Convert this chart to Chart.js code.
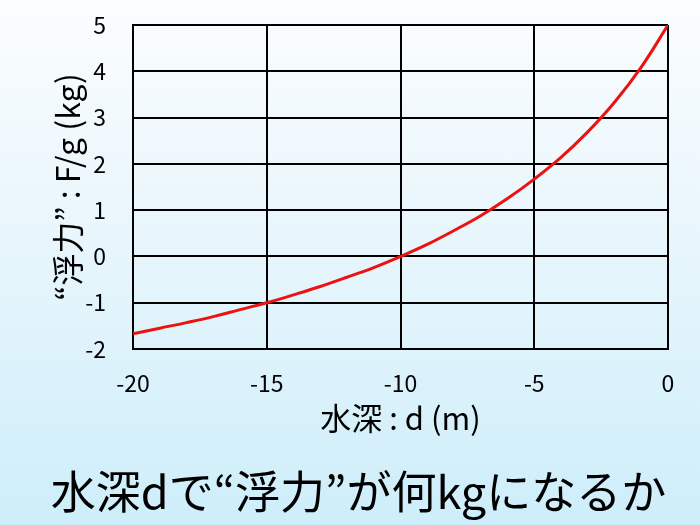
<!DOCTYPE html>
<html>
<head>
<meta charset="utf-8">
<script src="https://cdn.jsdelivr.net/npm/chart.js@4"></script>
<style>
    html, body {
        margin: 0;
        padding: 0;
        width: 700px;
        height: 525px;
        overflow: hidden;
        background: linear-gradient(to bottom, #fbfdfe 0%, #e6f5fc 50%, #cdeefa 100%);
    }
    #wrap {
        width: 700px;
        height: 525px;
    }
</style>
</head>
<body>
<div id="wrap"><canvas id="buoy"></canvas></div>
<script>
// depth d (m) and buoyancy F/g (kg)
const depths = [-20, -19, -18, -17, -16, -15, -14, -13, -12, -11, -10, -9, -8, -7, -6, -5, -4, -3, -2, -1, 0];
const buoyancy = [-1.67, -1.55, -1.43, -1.30, -1.15, -1.0, -0.83, -0.65, -0.45, -0.24, 0, 0.26, 0.56, 0.88, 1.25, 1.67, 2.14, 2.69, 3.33, 4.09, 5.0];

const xTicks = [-20, -15, -10, -5, 0];
const yTicks = [-2, -1, 0, 1, 2, 3, 4, 5];

const titleText = "水深dで“浮力”が何kgになるか";
const xTitle = "水深 : d (m)";
const yTitle = "“浮力” : F/g (kg)";

const fontFamily = "'Noto Sans CJK JP', 'Noto Sans', sans-serif";

const points = depths.map((d, i) => ({ x: d, y: buoyancy[i] }));

const gridOpts = {
    color: "#000",
    lineWidth: 2,
    drawTicks: false,
};

new Chart(document.getElementById("buoy"), {
    type: "line",
    data: {
        datasets: [
            {
                data: points,
                borderColor: "#ee1111",
                borderWidth: 3,
                pointRadius: 0,
                tension: 0.4,
                fill: false,
            }
        ],
    },
    options: {
        responsive: true,
        maintainAspectRatio: false,
        animation: false,
        layout: {
            padding: { left: 49, right: 32, top: 25, bottom: 6 }
        },
        plugins: {
            legend: { display: false },
            tooltip: { enabled: false },
            title: {
                display: true,
                position: "bottom",
                text: titleText,
                color: "#000",
                font: { family: fontFamily, size: 45, weight: "normal" },
                padding: { top: 28, bottom: 0 },
            },
        },
        scales: {
            x: {
                type: "linear",
                min: -20,
                max: 0,
                afterBuildTicks: (axis) => { axis.ticks = xTicks.map(v => ({ value: v })); },
                afterFit: (axis) => { axis.height = 88; },
                grid: gridOpts,
                border: { color: "#000", width: 2 },
                ticks: {
                    color: "#000",
                    padding: 20,
                    font: { family: fontFamily, size: 23 },
                },
                title: {
                    display: true,
                    text: xTitle,
                    color: "#000",
                    font: { family: fontFamily, size: 31 },
                    padding: { top: 0, bottom: 0 },
                },
            },
            y: {
                type: "linear",
                min: -2,
                max: 5,
                afterBuildTicks: (axis) => { axis.ticks = yTicks.map(v => ({ value: v })); },
                afterFit: (axis) => {
                    axis.width = 84;
                    axis.paddingTop = 0;
                    axis.paddingBottom = 0;
                },
                grid: gridOpts,
                border: { color: "#000", width: 2 },
                ticks: {
                    color: "#000",
                    padding: 27,
                    font: { family: fontFamily, size: 23 },
                },
                title: {
                    display: true,
                    text: yTitle,
                    color: "#000",
                    font: { family: fontFamily, size: 32 },
                    padding: { top: 0, bottom: 0 },
                },
            },
        },
    },
});
</script>
</body>
</html>
